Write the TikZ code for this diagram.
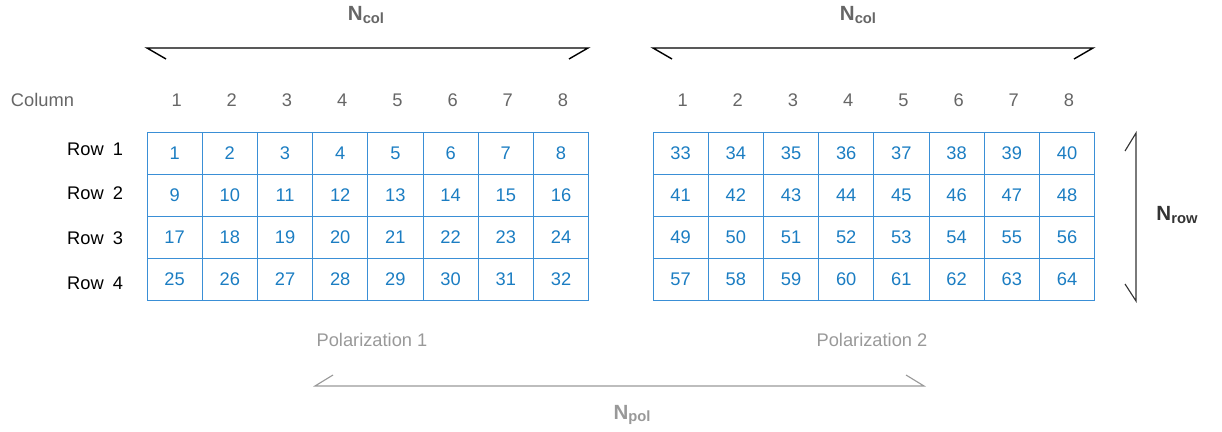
\documentclass[tikz,border=0pt]{standalone}
\usepackage{fontspec}
\setmainfont{Liberation Sans}
\definecolor{cellblue}{HTML}{1B7DC2}
\definecolor{gridblue}{HTML}{3A8FD6}
\definecolor{headgray}{HTML}{666666}
\definecolor{polgray}{HTML}{999999}
\newcommand{\nsub}[1]{\textbf{N{\fontsize{10.5}{12}\selectfont\raisebox{-0.35ex}{#1}}}}
\tikzset{
  cell/.style={draw=gridblue,line width=0.7pt,minimum width=1.38cm,minimum height=1.05cm,
    inner sep=0pt,text=cellblue,font=\fontsize{13}{15}\selectfont},
  colnum/.style={text=headgray,font=\fontsize{13}{15}\selectfont},
  rowlabel/.style={anchor=east,font=\fontsize{13}{15}\selectfont},
  brace/.style={line width=1pt},
  dimlabel/.style={font=\fontsize{14.6}{16}\selectfont}
}

\begin{document}
\begin{tikzpicture}[x=0.025cm,y=-0.025cm]
  \useasboundingbox (0,0) rectangle (1222,432);
  % cells of both polarizations
  \foreach \p/\x in {0/147,1/653}{
    \foreach \r in {1,...,4}{
      \foreach \c in {1,...,8}{
        \pgfmathtruncatemacro\n{32*\p+8*(\r-1)+\c}
        \node[cell] (c\n) at ({\x+55.2*(\c-0.5)},{132+42*(\r-0.5)}) {\n};
      }
    }
    \foreach \c in {1,...,8}
      \node[colnum] (h\p\c) at ({\x+2+55.2*(\c-0.5)},100) {\c};
  }
  \node[text=headgray,font=\fontsize{13}{15}\selectfont,anchor=west] (column) at (6,100) {Column};
  \foreach \r/\y in {1/149,2/193,3/238,4/283}
    \node[rowlabel] (row\r) at (128,\y) {Row\hspace{0.5em}\r};

  % dimension brackets
  \draw[brace] (166,59) -- (147,48) -- (588,48) -- (569,59);
  \draw[brace] (672,59) -- (653,48) -- (1093,48) -- (1074,59);
  \draw[brace,line width=0.8pt,black!80] (1125,151) -- (1136,133) -- (1136,301) -- (1125,284);
  \draw[line width=0.8pt,polgray] (333,375) -- (315,386) -- (924,386) -- (906,375);

  \node[dimlabel,text=headgray] (ncol1) at (366,15) {\nsub{col}};
  \node[dimlabel,text=headgray] (ncol2) at (858,15) {\nsub{col}};
  \node[dimlabel,text=black!80] (nrow) at (1177,215) {\nsub{row}};
  \node[dimlabel,text=polgray] (npol) at (632,415) {\nsub{pol}};

  \node[colnum,text=polgray] (pol1) at (372,340) {Polarization 1};
  \node[colnum,text=polgray] (pol2) at (872,340) {Polarization 2};
\end{tikzpicture}
\end{document}
